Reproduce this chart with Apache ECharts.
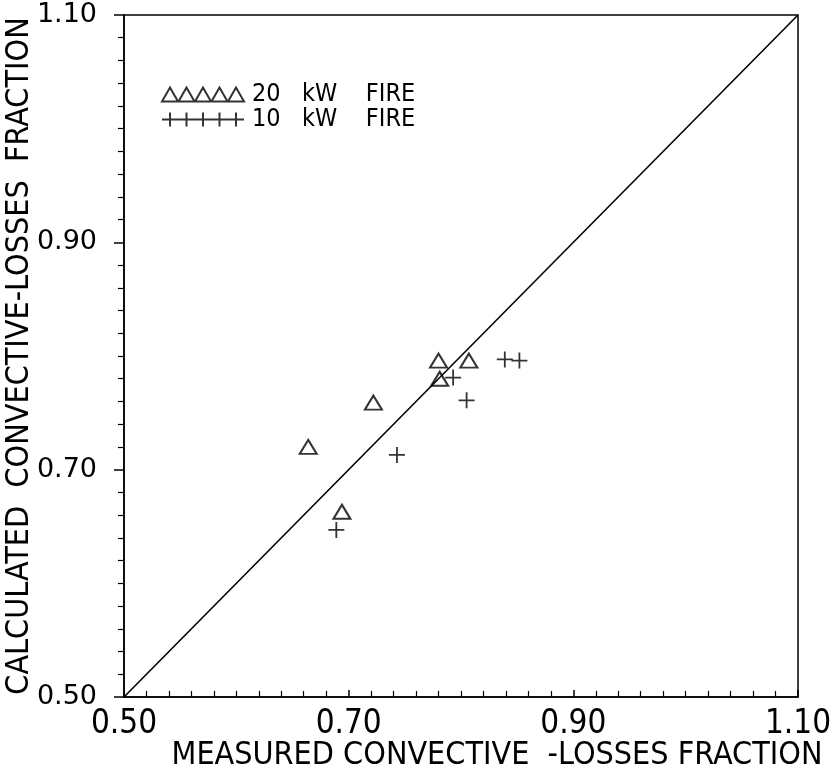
<!DOCTYPE html>
<html>
<head>
<meta charset="utf-8">
<script src="https://cdn.jsdelivr.net/npm/echarts@6/dist/echarts.min.js"></script>
<style>
  html, body { margin: 0; padding: 0; background: #fff; }
  #main { width: 837px; height: 773px; }
</style>
</head>
<body>
<div id="main"></div>
<script>
// measured vs calculated convective-losses fraction
const fire20 = [
  [0.664, 0.720],
  [0.694, 0.663],
  [0.722, 0.759],
  [0.780, 0.796],
  [0.781, 0.780],
  [0.807, 0.796],
];
const fire10 = [
  [0.689, 0.647],
  [0.743, 0.713],
  [0.793, 0.781],
  [0.805, 0.761],
  [0.839, 0.797],
  [0.852, 0.796],
];
const diagonal = [[0.50, 0.50], [1.10, 1.10]];

const narrow = "'Liberation Sans Narrow', 'DejaVu Sans Condensed', sans-serif";
const triIcon = 'path://M0,14L8,0L16,14Z M16.5,14L24.5,0L32.5,14Z M33,14L41,0L49,14Z M49.5,14L57.5,0L65.5,14Z M66,14L74,0L82,14Z';
const crossIcon = 'path://M0,7L82,7 M8,0L8,14 M24.5,0L24.5,14 M41,0L41,14 M57.5,0L57.5,14 M74,0L74,14';

const option = {
  backgroundColor: '#fff',
  animation: false,
  grid: {
    left: 124,
    right: 39,
    top: 15,
    bottom: 76,
    outerBoundsMode: 'none',
    containLabel: false,
    show: true,
    borderColor: '#000',
    borderWidth: 1.5,
  },
  legend: {
    orient: 'vertical',
    left: 161,
    top: 82,
    padding: 0,
    itemGap: 0,
    itemWidth: 82,
    itemHeight: 15,
    selectedMode: false,
    data: [
      { name: '20 kW FIRE', icon: triIcon },
      { name: '10 kW FIRE', icon: crossIcon },
    ],
    formatter(name) {
      return name.replace(' kW ', '   kW    ');
    },
    textStyle: {
      fontFamily: narrow,
      fontSize: 25,
      color: '#000',
      padding: [0, 0, 0, 3],
    },
  },
  xAxis: {
    type: 'value',
    min: 0.5,
    max: 1.1,
    interval: 0.2,
    name: 'MEASURED CONVECTIVE  -LOSSES FRACTION',
    nameLocation: 'middle',
    nameMoveOverlap: false,
    nameGap: 43,
    nameTextStyle: {
      fontFamily: narrow,
      fontSize: 32,
      color: '#000',
      padding: [0, 0, 0, 72],
    },
    axisLine: { lineStyle: { color: '#000', width: 1.5 } },
    axisTick: { inside: true, length: 7, lineStyle: { color: '#000', width: 1.5 } },
    minorTick: { show: true, splitNumber: 10, length: 6, lineStyle: { color: '#000', width: 1.2 } },
    splitLine: { show: false },
    axisLabel: {
      fontFamily: narrow,
      fontSize: 33,
      color: '#000',
      margin: 11,
      formatter: (v) => v.toFixed(2),
    },
  },
  yAxis: {
    type: 'value',
    min: 0.5,
    max: 1.1,
    interval: 0.2,
    name: 'CALCULATED  CONVECTIVE-LOSSES  FRACTION',
    nameLocation: 'middle',
    nameMoveOverlap: false,
    nameGap: 88,
    nameTextStyle: {
      fontFamily: narrow,
      fontSize: 32,
      color: '#000',
    },
    axisLine: { lineStyle: { color: '#000', width: 1.5 } },
    axisTick: { inside: false, length: 10, lineStyle: { color: '#000', width: 1.5 } },
    minorTick: { show: true, splitNumber: 10, length: 6, lineStyle: { color: '#000', width: 1.2 } },
    splitLine: { show: false },
    axisLabel: {
      fontFamily: "'DejaVu Sans', sans-serif",
      fontSize: 27,
      color: '#000',
      margin: 27,
      formatter: (v) => v.toFixed(2),
    },
  },
  series: [
    {
      name: 'diagonal',
      type: 'line',
      data: diagonal,
      symbol: 'none',
      silent: true,
      lineStyle: { color: '#000', width: 1.6 },
    },
    {
      name: '20 kW FIRE',
      type: 'scatter',
      data: fire20,
      symbol: 'triangle',
      symbolSize: [17, 14],
      itemStyle: { color: 'transparent', borderColor: '#000', borderWidth: 2 },
    },
    {
      name: '10 kW FIRE',
      type: 'scatter',
      data: fire10,
      symbol: 'path://M0,8L16,8M8,0L8,16',
      symbolSize: 16,
      itemStyle: { color: 'transparent', borderColor: '#000', borderWidth: 1.8 },
    },
  ],
};

const myechart = echarts.init(document.getElementById('main'));
myechart.setOption(option);
</script>
</body>
</html>
